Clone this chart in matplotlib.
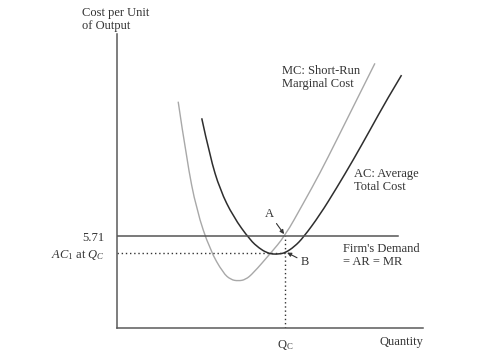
import matplotlib.pyplot as plt
from matplotlib.path import Path
from matplotlib.patches import PathPatch

plt.rcParams['font.family'] = ['Liberation Serif', 'DejaVu Serif']
plt.rcParams['mathtext.fontset'] = 'custom'
plt.rcParams['mathtext.rm'] = 'Liberation Serif'
plt.rcParams['mathtext.it'] = 'Liberation Serif:italic'

# ==== DATA ====
PRICE = 5.71
Q_C = 5.49
AC_1 = 4.66

mc_q = [2.00, 2.28, 2.60, 3.04, 3.47, 3.72, 3.96, 4.20, 4.45, 5.00, 5.49, 6.09, 6.63, 7.18, 7.83, 8.43]
mc_cost = [14.05, 10.43, 7.32, 4.84, 3.41, 3.00, 2.92, 3.00, 3.40, 4.60, 5.71, 7.74, 9.60, 11.67, 14.15, 16.43]

ac_q = [2.77, 3.04, 3.37, 3.80, 4.35, 4.65, 4.89, 5.10, 5.30, 5.49, 5.80, 6.09, 6.63, 7.18, 7.72, 8.27, 8.81, 9.30]
ac_cost = [13.02, 10.63, 8.57, 6.91, 5.46, 4.95, 4.68, 4.58, 4.60, 4.66, 5.05, 5.62, 7.02, 8.70, 10.43, 12.29, 14.15, 15.70]

demand_q = [0, 9.2]


# ==== SMOOTH CURVE THROUGH READ POINTS ====
def smooth_curve(ax, xs, ys, **kw):
    # quadratic bezier: read points are control points, midpoints lie on curve
    verts = [(xs[0], ys[0])]
    codes = [Path.MOVETO]
    for i in range(1, len(xs) - 1):
        mid = ((xs[i] + xs[i + 1]) / 2, (ys[i] + ys[i + 1]) / 2)
        if i == len(xs) - 2:
            mid = (xs[-1], ys[-1])
        verts += [(xs[i], ys[i]), mid]
        codes += [Path.CURVE3, Path.CURVE3]
    ax.add_patch(PathPatch(Path(verts, codes), fill=False, capstyle='butt', **kw))


# ==== PLOT ====
fig = plt.figure(figsize=(4.86, 3.54), dpi=100)
ax = fig.add_axes([0.2407, 0.0734, 0.6296, 0.8305])
ax.set_xlim(0, 10)
ax.set_ylim(0, 18.25)

axis_col = '#5a5a5a'
for s in ['top', 'right']:
    ax.spines[s].set_visible(False)
for s in ['left', 'bottom']:
    ax.spines[s].set_color(axis_col)
    ax.spines[s].set_linewidth(1.1)

smooth_curve(ax, mc_q, mc_cost, edgecolor='#a8a8a8', lw=1.0)
smooth_curve(ax, ac_q, ac_cost, edgecolor='#2e2e2e', lw=1.1)
ax.plot(demand_q, [PRICE, PRICE], color='#555555', lw=1.1)

ax.plot([0, Q_C], [AC_1, AC_1], color='#333333', lw=1.0, ls=(0, (1, 2)))
ax.plot([Q_C, Q_C], [0, PRICE], color='#333333', lw=1.0, ls=(0, (1, 2)))

ax.set_yticks([PRICE, AC_1])
ax.set_yticklabels(['5.71', r'$AC_1$ at $Q_C$'])
ax.set_xticks([Q_C])
ax.set_xticklabels([r'$\mathrm{Q_C}$'])
ax.tick_params(length=0, labelsize=9, colors='#333333')
ax.tick_params(axis='y', pad=9)
ax.tick_params(axis='x', pad=7)

txt = dict(fontsize=9, color='#333333', linespacing=1.1)
ax.text(-1.15, 18.4, 'Cost per Unit\nof Output', ha='left', va='bottom', **txt)
ax.text(10, -0.5, 'Quantity', ha='right', va='top', **txt)
ax.text(5.4, 16.3, 'MC: Short-Run\nMarginal Cost', ha='left', va='top', **txt)
ax.text(7.75, 9.95, 'AC: Average\nTotal Cost', ha='left', va='top', **txt)
ax.text(7.4, 5.3, "Firm's Demand\n= AR = MR", ha='left', va='top', **txt)

arrow = dict(arrowstyle='-|>', color='#333333', lw=0.8, mutation_scale=6, shrinkA=1, shrinkB=0)
ax.annotate('A', xy=(Q_C - 0.03, PRICE + 0.12), xytext=(4.98, 7.1),
            ha='center', va='center', arrowprops=arrow, fontsize=9, color='#333333')
ax.annotate('B', xy=(Q_C + 0.07, AC_1 + 0.02), xytext=(6.15, 4.1),
            ha='center', va='center', arrowprops=arrow, fontsize=9, color='#333333')

fig.savefig('out.png', dpi=100)
